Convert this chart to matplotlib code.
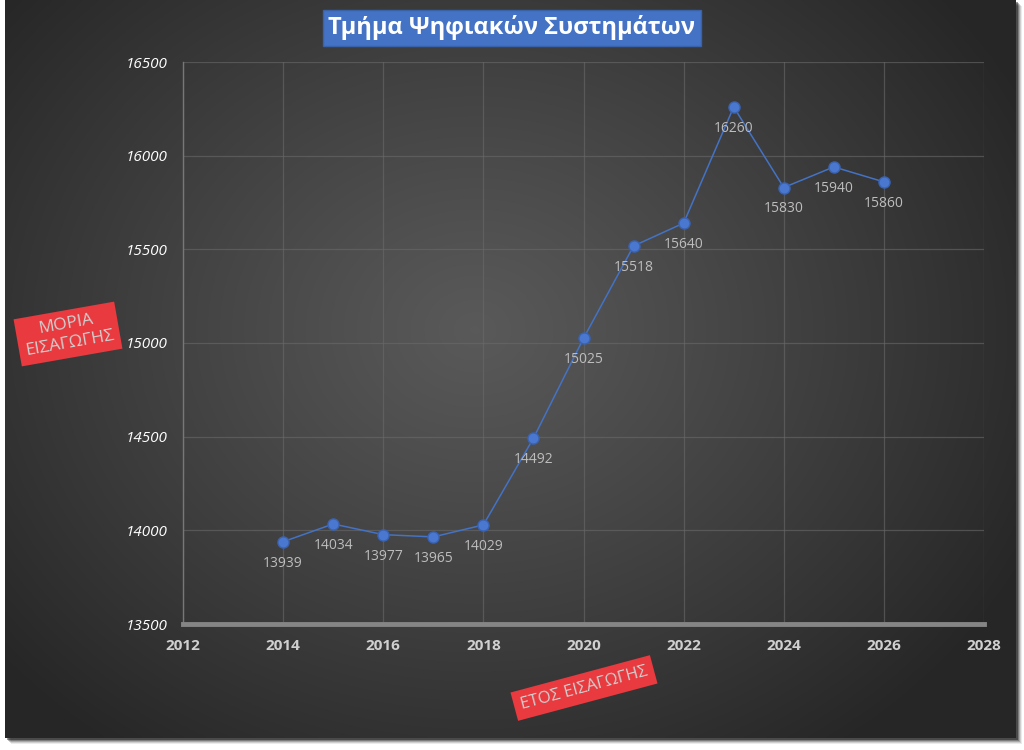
import numpy as np
import matplotlib
matplotlib.use("Agg")
import matplotlib.pyplot as plt
from matplotlib.patches import Rectangle

# data
years = [2014, 2015, 2016, 2017, 2018, 2019, 2020, 2021, 2022, 2023, 2024, 2025, 2026]
moria = [13939, 14034, 13977, 13965, 14029, 14492, 15025, 15518, 15640, 16260, 15830, 15940, 15860]
x_ticks = [2012, 2014, 2016, 2018, 2020, 2022, 2024, 2026, 2028]
y_ticks = [13500, 14000, 14500, 15000, 15500, 16000, 16500]

title = "Τμήμα Ψηφιακών Συστημάτων"
ylab = "ΜΟΡΙΑ\nΕΙΣΑΓΩΓΗΣ"
xlab = "ΕΤΟΣ ΕΙΣΑΓΩΓΗΣ"

plt.rcParams['font.family'] = ['Open Sans', 'DejaVu Sans']

W, H = 1024, 750
fig = plt.figure(figsize=(W / 100, H / 100), dpi=100)
fig.patch.set_facecolor('white')

# panel placement in pixels
px0, px1, py0, py1 = 5, 1016, 0, 738

# soft shadow right/bottom, kept behind everything
for i, a in enumerate([0.08, 0.12, 0.18, 0.26, 0.4]):
    off = 6 - i
    fig.patches.append(Rectangle(((px0 + off) / W, (H - py1 - off) / H),
                                 (px1 - px0) / W, (py1 - py0) / H,
                                 transform=fig.transFigure, facecolor='black',
                                 alpha=a, edgecolor='none', zorder=-5))

bg = fig.add_axes([px0 / W, (H - py1) / H, (px1 - px0) / W, (py1 - py0) / H])
bg.set_zorder(-1)
bg.set_axis_off()
gx, gy = np.meshgrid(np.linspace(0, px1 - px0, 400), np.linspace(0, py1 - py0, 300))
d = np.sqrt(((gx - 470) / 620) ** 2 + ((gy - 330) / 520) ** 2)
d = np.clip(d, 0, 1)
c = 0.35 - (0.35 - 0.15) * d ** 1.1
img = np.dstack([c, c, c])
bg.imshow(img, extent=[0, 1, 0, 1], aspect='auto', origin='upper', interpolation='bilinear')

ax = fig.add_axes([183 / W, (H - 624) / H, (984 - 183) / W, (624 - 62) / H])
ax.patch.set_alpha(0)
ax.set_xlim(2012, 2028)
ax.set_ylim(13500, 16500)
ax.set_xticks(x_ticks)
ax.set_yticks(y_ticks)
ax.grid(True, color='#6a6a6a', lw=0.9, alpha=0.6)
ax.set_axisbelow(True)
for s in ['top', 'right']:
    ax.spines[s].set_visible(False)
ax.spines['left'].set_color('#777777')
ax.spines['left'].set_linewidth(1)
ax.spines['bottom'].set_color('#858585')
ax.spines['bottom'].set_linewidth(3.5)
ax.tick_params(length=0)
ax.tick_params(axis='x', pad=11, labelsize=11, labelcolor='#d0d0d0')
ax.tick_params(axis='y', pad=11, labelsize=11, labelcolor='white')
for t in ax.get_xticklabels():
    t.set_fontweight('bold')
for t in ax.get_yticklabels():
    t.set_fontstyle('italic')

ax.plot(years, moria, color='#4472C4', lw=1.1, marker='o', markersize=8,
        markerfacecolor='#4a78d0', markeredgecolor='#3a62b0', zorder=3)
for x, y in zip(years, moria):
    ax.annotate(str(y), (x, y), xytext=(0, -10), textcoords='offset points',
                ha='center', va='top', fontsize=10, color='#bdbdbd')

fig.text(512 / W, 1 - 28 / H, title, ha='center', va='center', fontsize=17,
         fontweight='bold', color='white',
         bbox=dict(boxstyle='square,pad=0.25', facecolor='#4472C4', edgecolor='#3a62a8'))

fig.text(68 / W, 1 - 334 / H, ylab, ha='center', va='center', fontsize=12.5,
         color='#d0d0d0', rotation=10, linespacing=1.3, rotation_mode='anchor',
         bbox=dict(boxstyle='square,pad=0.35', facecolor='#e83a3f', edgecolor='none'))

fig.text(584 / W, 1 - 688 / H, xlab, ha='center', va='center', fontsize=12,
         color='#d0d0d0', rotation=15, rotation_mode='anchor',
         bbox=dict(boxstyle='square,pad=0.4', facecolor='#e83a3f', edgecolor='none'))

fig.savefig('out.png', dpi=100, facecolor='white')
